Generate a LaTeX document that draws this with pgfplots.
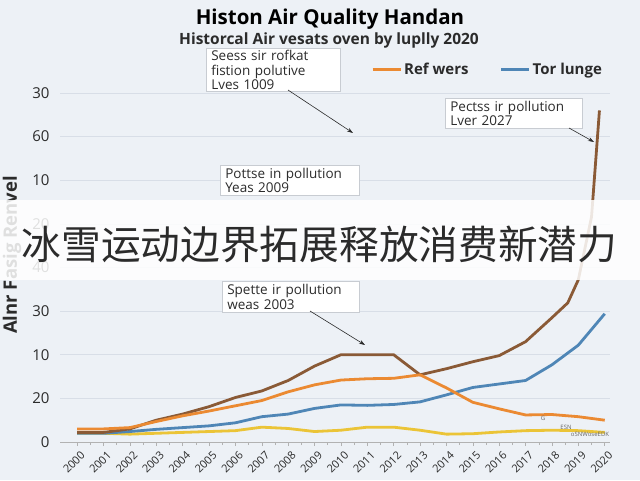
\documentclass[border=0pt]{standalone}
\usepackage{pgfplots}
\pgfplotsset{compat=1.18}
\usepackage{fontspec}
\setmainfont{Open Sans}
\newfontfamily\cjk{Noto Sans CJK SC}
\usetikzlibrary{arrows.meta}

\definecolor{bgcol}{HTML}{EDF1F6}
\definecolor{gridcol}{HTML}{D8DEE7}
\definecolor{cbrown}{HTML}{8A5A36}
\definecolor{corange}{HTML}{EB8A32}
\definecolor{cblue}{HTML}{4F86B6}
\definecolor{cyellow}{HTML}{EBC437}
\definecolor{txt}{HTML}{2B2B2B}
\definecolor{boxline}{HTML}{C8CCD2}

\begin{document}
\begin{tikzpicture}
\fill[bgcol] (0pt,0pt) rectangle (640pt,480pt);
\useasboundingbox (0pt,0pt) rectangle (640pt,480pt);

\begin{axis}[
    at={(60pt,38pt)}, anchor=south west,
    scale only axis,
    width=550pt, height=349pt,
    xmin=-0.65, xmax=20.2,
    ymin=0, ymax=8,
    clip=false,
    axis x line*=bottom,
    axis y line*=left,
    y axis line style={draw=none},
    x axis line style={color=gray!60, line width=0.6pt},
    xtick={0,...,20},
    xticklabels={2000,2001,2002,2003,2004,2005,2006,2007,2008,2009,2010,
                 2011,2012,2013,2014,2015,2016,2017,2018,2019,2020},
    minor x tick num=1,
    tick align=outside,
    major tick length=4pt, minor tick length=3pt,
    x tick style={color=gray!60, line width=0.5pt},
    ytick={0,...,8},
    yticklabels={0,20,10,30,40,20,10,60,30},
    y tick style={draw=none},
    ymajorgrids=true,
    grid style={color=gridcol, line width=0.6pt},
    /pgf/number format/assume math mode=true,
    xticklabel style={rotate=45, anchor=north east, color=txt,
        font=\fontsize{11}{12}\selectfont, inner sep=1pt, yshift=-4pt},
    yticklabel style={color=txt, font=\fontsize{15}{17}\selectfont, xshift=-3pt},
    legend style={at={(0.56,1.066)}, anchor=west, draw=none, fill=none,
        font=\bfseries\fontsize{15}{17}\selectfont, text=txt},
    legend columns=2,
    legend cell align=left,
    legend image code/.code={\draw[#1, line width=3pt] (0pt,0pt) -- (28pt,0pt);},
    /tikz/every even column/.append style={column sep=29pt},
]

\addlegendimage{corange}
\addlegendentry{Ref wers}
\addlegendimage{cblue}
\addlegendentry{Tor lunge}

\addplot[cyellow, line width=2.8pt, forget plot] coordinates {
(0,0.20)(1,0.20)(2,0.18)(3,0.20)(4,0.22)(5,0.24)(6,0.26)(7,0.34)(8,0.31)(9,0.24)
(10,0.27)(11,0.34)(12,0.34)(13,0.27)(14,0.18)(15,0.19)(16,0.23)(17,0.26)(18,0.27)
(19,0.26)(20,0.22)};

\addplot[cblue, line width=2.8pt, forget plot] coordinates {
(0,0.20)(1,0.20)(2,0.24)(3,0.29)(4,0.33)(5,0.37)(6,0.44)(7,0.58)(8,0.64)(9,0.77)
(10,0.85)(11,0.84)(12,0.86)(13,0.92)(14,1.08)(15,1.25)(16,1.33)(17,1.41)(18,1.77)
(19,2.22)(20,2.94)};

\addplot[cbrown, line width=2.8pt, forget plot] coordinates {
(0,0.22)(1,0.22)(2,0.30)(3,0.50)(4,0.64)(5,0.81)(6,1.02)(7,1.17)(8,1.41)(9,1.74)
(10,2.00)(11,2.00)(12,2.00)(13,1.54)(14,1.68)(15,1.84)(16,1.98)(17,2.30)(18,2.85)
(18.6,3.19)(19,3.72)(19.5,5.16)(19.8,7.60)};

\addplot[corange, line width=2.8pt, forget plot] coordinates {
(0,0.30)(1,0.30)(2,0.33)(3,0.47)(4,0.60)(5,0.71)(6,0.83)(7,0.95)(8,1.15)(9,1.31)
(10,1.42)(11,1.45)(12,1.46)(13,1.54)(14,1.24)(15,0.91)(16,0.76)(17,0.62)(18,0.63)
(19,0.58)(20,0.50)};

\end{axis}

% titles
\node[font=\bfseries\fontsize{20.5}{24}\selectfont, text=black] at (330pt,461pt) {Histon Air Quality Handan};
\node[font=\bfseries\fontsize{15.5}{18}\selectfont, text=txt] at (329pt,440pt) {Historcal Air vesats oven by luplly 2020};

% y label
\node[rotate=90, font=\bfseries\fontsize{18.5}{21}\selectfont, text=txt] at (12pt,225pt) {Alnr Fasig Renvel};

% annotation boxes
\tikzset{annot/.style={draw=boxline, line width=0.6pt, fill=white, anchor=north west,
    align=left, inner xsep=5pt, inner ysep=2pt, text=txt,
    font=\fontsize{13.5}{14.5}\selectfont}}
\node[annot, minimum width=134pt, minimum height=42pt, text width=124pt] at (206pt,432pt)
  {Seess sir rofkat\\fistion polutive\\Lves 1009};
\node[annot, minimum width=137pt, minimum height=30pt, text width=127pt] at (445pt,382pt)
  {Pectss ir pollution\\Lver 2027};
\node[annot, minimum width=139pt, minimum height=30pt, text width=129pt] at (220pt,315pt)
  {Pottse in pollution\\Yeas 2009};
\node[annot, minimum width=137pt, minimum height=31pt, text width=127pt] at (222pt,199pt)
  {Spette ir pollution\\weas 2003};

\draw[-{Stealth[length=6pt,width=4pt]}, line width=0.6pt, color=txt] (288pt,390pt) -- (353pt,347pt);
\draw[-{Stealth[length=6pt,width=4pt]}, line width=0.6pt, color=txt] (569pt,352pt) -- (594pt,338pt);
\draw[-{Stealth[length=6pt,width=4pt]}, line width=0.6pt, color=txt] (310pt,169pt) -- (365pt,135pt);

% small marks near bottom right
\node[font=\fontsize{6}{7}\selectfont, text=gray!80!black] at (543pt,62pt) {G};
\node[font=\fontsize{6}{7}\selectfont, text=gray!80!black] at (566pt,53pt) {ESN};
\node[font=\fontsize{6}{7}\selectfont, text=gray!80!black] at (590pt,46pt) {oSNWoseEDK};

% banner
\fill[white, opacity=0.85] (0pt,200pt) rectangle (640pt,280pt);
\node[anchor=base, font=\cjk\fontsize{39.7}{42}\selectfont, text=txt, inner sep=0pt] at (319.5pt,221pt)
  {冰雪运动边界拓展释放消费新潜力};

\end{tikzpicture}
\end{document}
